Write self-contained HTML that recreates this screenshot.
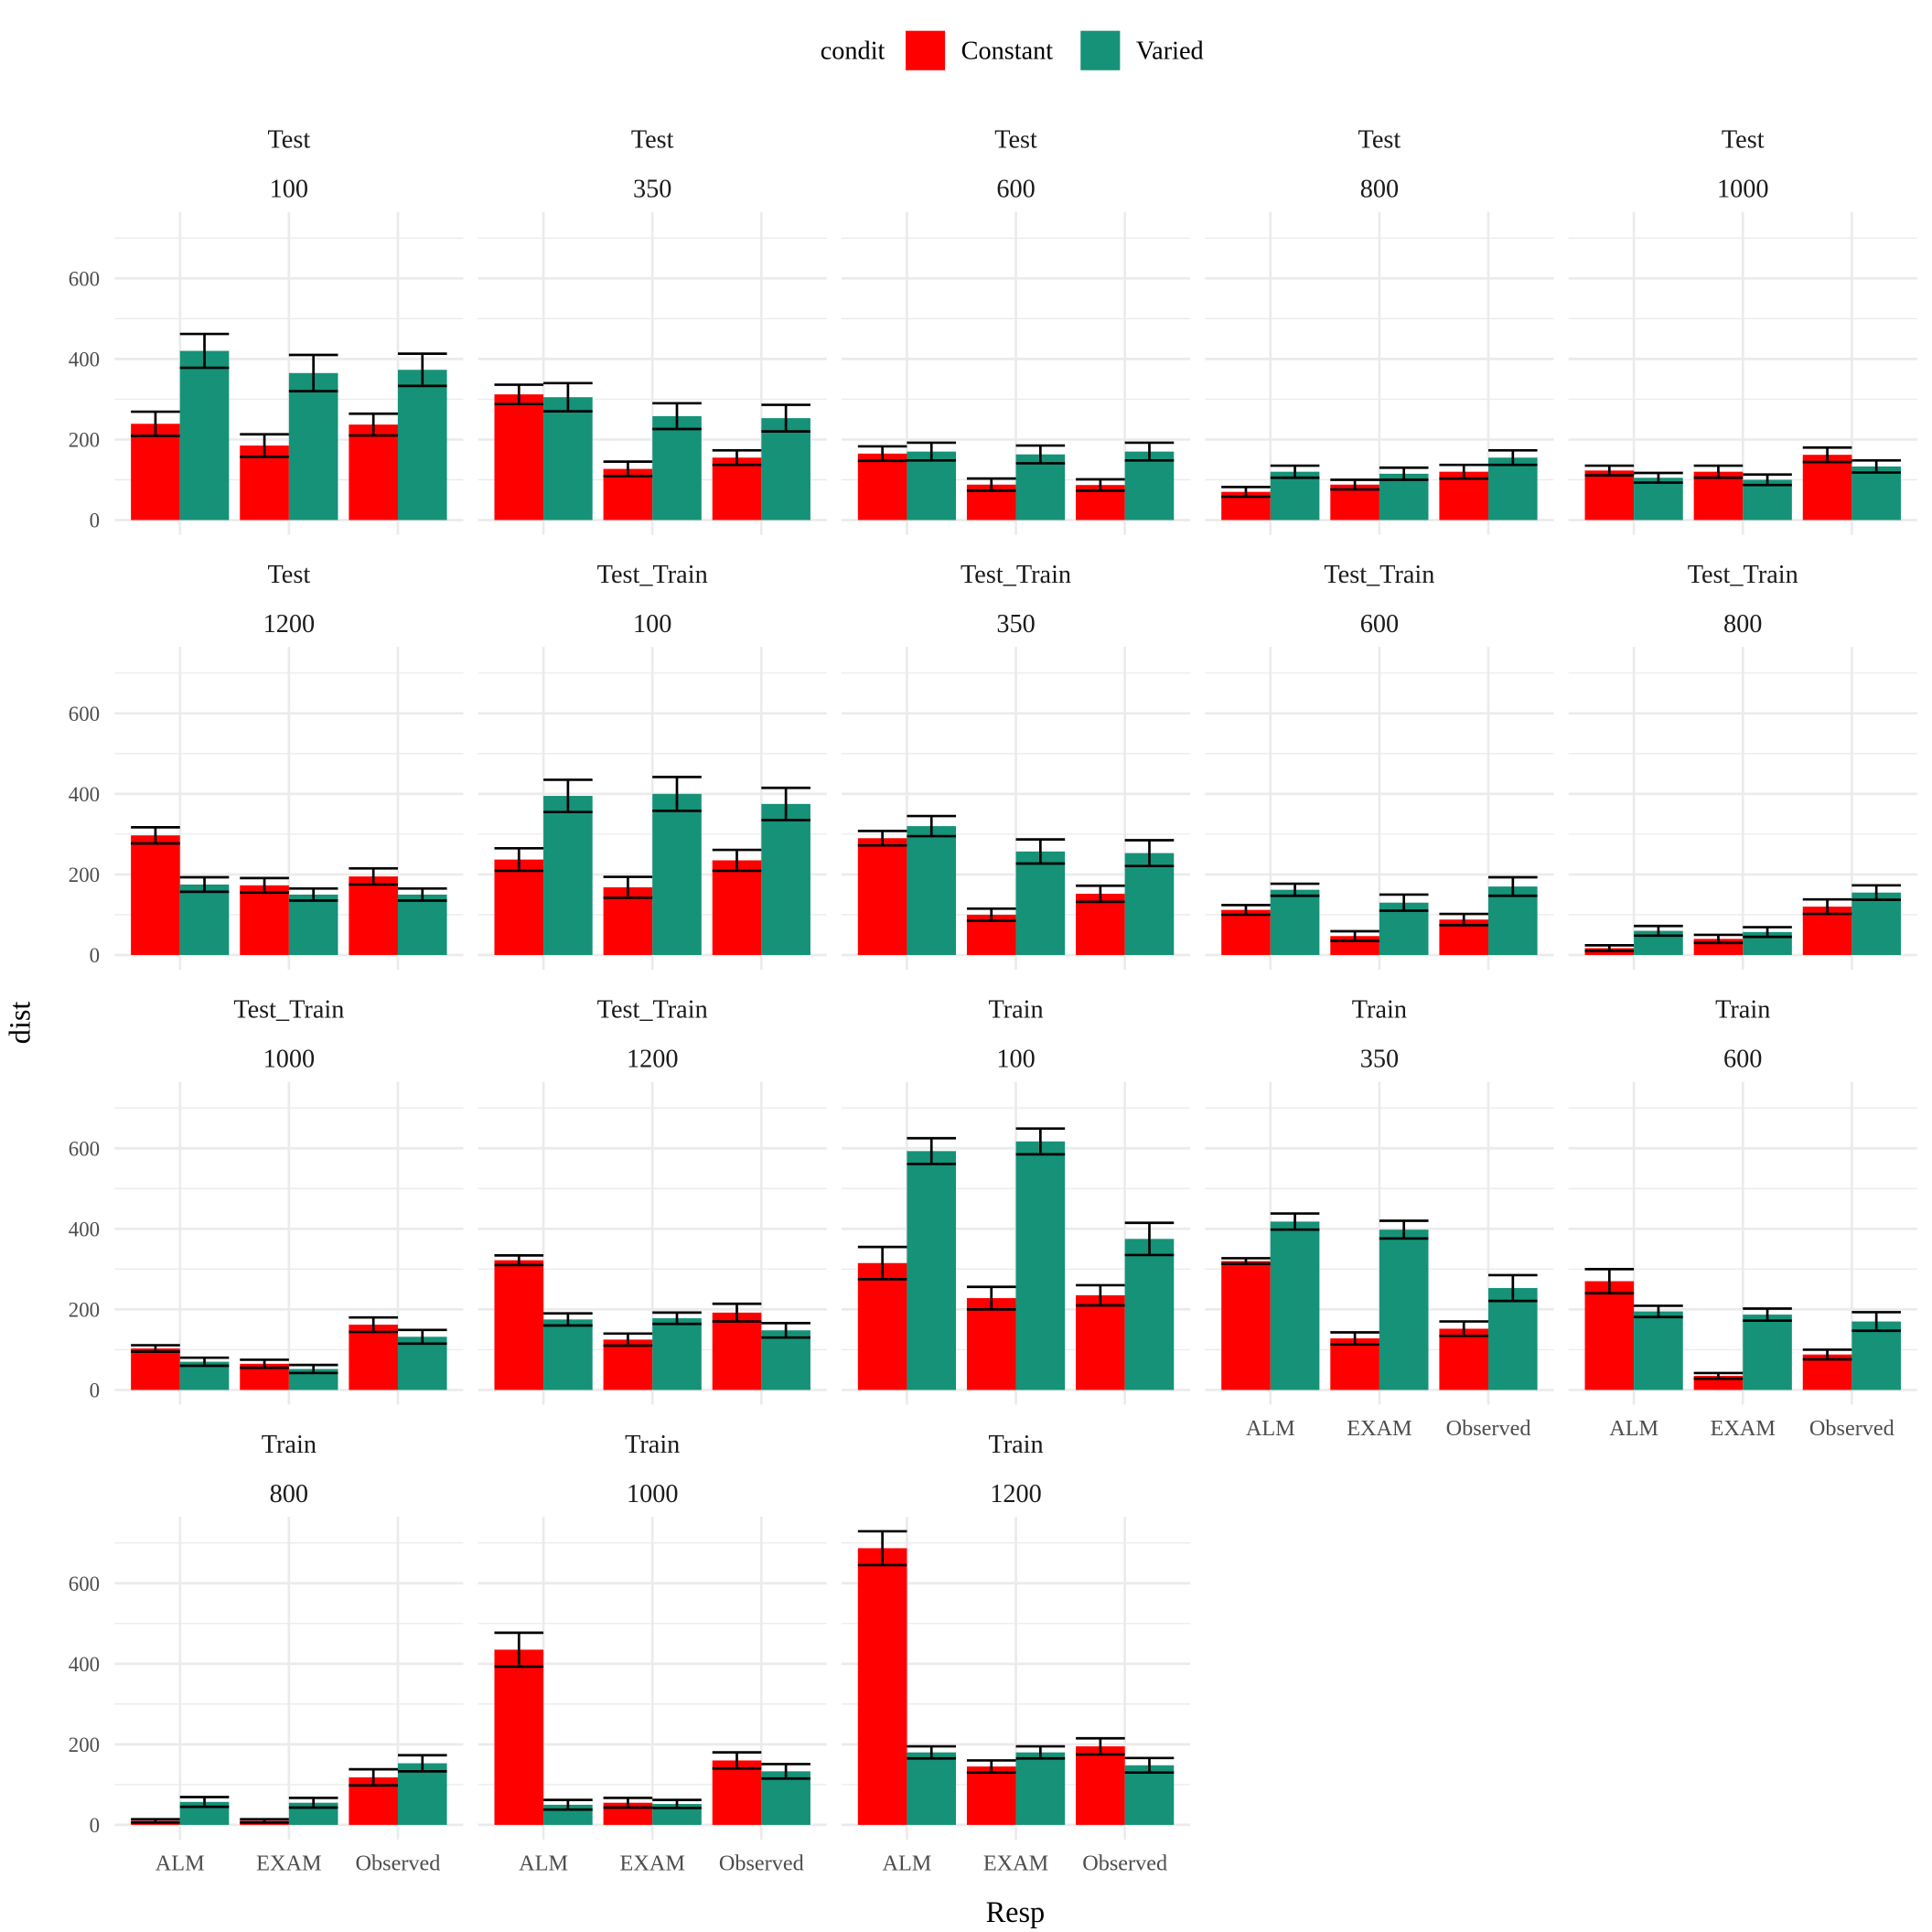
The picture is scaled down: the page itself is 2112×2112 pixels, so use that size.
<!DOCTYPE html>
<html><head><meta charset="utf-8"><style>
html,body{margin:0;padding:0;background:#fff}
svg{display:block}
text{font-family:"Liberation Serif",serif}
</style></head><body>
<svg id="chart" width="2112" height="2112" viewBox="0 0 1568 1568" xmlns="http://www.w3.org/2000/svg">
<g>
<text x="692" y="48" font-size="21" text-anchor="middle" fill="#000">condit</text>
<rect x="735" y="25" width="32" height="32" fill="#FF0000"/>
<text x="780" y="48" font-size="21" fill="#000">Constant</text>
<rect x="877" y="25" width="32" height="32" fill="#159278"/>
<text x="922" y="48" font-size="21" fill="#000">Varied</text>
</g>
<text x="824" y="1560" font-size="24" text-anchor="middle" fill="#000">Resp</text>
<text x="0" y="0" font-size="24" text-anchor="middle" fill="#000" transform="translate(24,830) rotate(-90)">dist</text>
<g id="panels"></g>
</svg>
<script>
const categories = ["ALM","EXAM","Observed"];
const stripTop = ["Test","Test","Test","Test","Test","Test","Test_Train","Test_Train","Test_Train","Test_Train","Test_Train","Test_Train","Train","Train","Train","Train","Train","Train"];
const stripBottom = ["100","350","600","800","1000","1200","100","350","600","800","1000","1200","100","350","600","800","1000","1200"];
// per panel: [ALM, EXAM, Observed]
const constantVals = [
[239,185,237],[312,127,155],[165,88,87],[70,88,120],[123,120,162],
[297,173,195],[237,168,235],[290,100,152],[112,47,88],[17,40,120],
[103,65,162],[322,125,192],[315,228,235],[320,128,152],[270,35,88],
[10,10,118],[435,55,160],[687,145,195]];
const variedVals = [
[420,365,373],[305,258,253],[170,163,170],[120,115,155],[105,100,133],
[175,150,150],[395,400,375],[320,257,253],[162,130,170],[60,57,155],
[70,52,132],[175,178,148],[593,617,375],[418,398,253],[195,187,170],
[57,55,153],[50,52,133],[180,180,148]];
const constantErr = [
[30,28,27],[24,18,18],[18,15,14],[12,12,17],[12,15,18],
[20,18,20],[28,26,26],[18,15,20],[12,12,14],[7,10,18],
[8,10,18],[12,15,22],[40,28,25],[7,15,18],[30,7,12],
[4,4,20],[42,12,20],[42,15,20]];
const variedErr = [
[42,45,40],[35,32,33],[22,22,22],[15,15,18],[12,13,15],
[18,15,15],[40,42,40],[25,30,32],[15,20,23],[12,12,18],
[10,10,17],[15,14,18],[32,32,40],[20,22,32],[14,15,23],
[12,12,20],[12,10,18],[15,15,18]];
const yTicks = [0,200,400,600];
const yMinor = [100,300,500,700];

const NS="http://www.w3.org/2000/svg";
const root=document.getElementById('panels');
function mk(tag,attrs,parent){const e=document.createElementNS(NS,tag);for(const k in attrs)e.setAttribute(k,attrs[k]);parent.appendChild(e);return e;}
const PW=283, PH=262, colX=[93,388,683,978,1273], rowTop=[172,525,878,1231];
const yMin=-36.5, yMax=765;
for(let p=0;p<18;p++){
  const r=Math.floor(p/5), c=p%5;
  const x0=colX[c], t0=rowTop[r];
  const g=mk('g',{},root);
  
  
  const ys=v=>t0+PH*(yMax-v)/(yMax-yMin);
  const xs=i=>x0+PW*(i+0.6)/3.2;
  const unit=PW/3.2;
  // strip
  const s1=mk('text',{x:x0+PW/2,y:t0-52,'font-size':21,'text-anchor':'middle',fill:'#1a1a1a'},g);
  s1.textContent=stripTop[p];
  
  
  const s2=mk('text',{x:x0+PW/2,y:t0-12,'font-size':21,'text-anchor':'middle',fill:'#1a1a1a'},g);
  s2.textContent=stripBottom[p];
  
  
  // grid
  yMinor.forEach(v=>{const l=mk('line',{x1:x0,x2:x0+PW,y1:ys(v),y2:ys(v),stroke:'#ebebeb','stroke-width':1},g);
    });
  yTicks.forEach(v=>{const l=mk('line',{x1:x0,x2:x0+PW,y1:ys(v),y2:ys(v),stroke:'#ebebeb','stroke-width':2},g);
    });
  categories.forEach((cat,i)=>{const l=mk('line',{x1:xs(i),x2:xs(i),y1:t0,y2:t0+PH,stroke:'#ebebeb','stroke-width':2},g);
    });
  if(c===0){
    yTicks.forEach(v=>{const tx=mk('text',{x:x0-12,y:ys(v)+6,'font-size':17,'text-anchor':'end',fill:'#4d4d4d'},g);
      tx.textContent=v;
      });
  }
  const showX = (r===3) || (r===2 && c>=3);
  if(showX){
    categories.forEach((cat,i)=>{const tx=mk('text',{x:xs(i),y:t0+PH+25,'font-size':18,'text-anchor':'middle',fill:'#4d4d4d'},g);
      tx.textContent=cat;
      });
  }
  const bw=unit*0.45;
  categories.forEach((cat,i)=>{
    const series=[[constantVals[p][i],constantErr[p][i],'#FF0000',-1,'constant'],[variedVals[p][i],variedErr[p][i],'#159278',0,'varied']];
    series.forEach(([v,e,col,off,nm])=>{
      const bx=xs(i)+off*bw;
      const b=mk('rect',{x:bx,y:ys(v),width:bw,height:ys(0)-ys(v),fill:col},g);
      
      
      const eg=mk('g',{stroke:'#000','stroke-width':2,fill:'none'},g);
      
      
      const cx=bx+bw/2;
      mk('line',{x1:cx,x2:cx,y1:ys(v+e),y2:ys(v-e)},eg);
      mk('line',{x1:bx,x2:bx+bw,y1:ys(v+e),y2:ys(v+e)},eg);
      mk('line',{x1:bx,x2:bx+bw,y1:ys(v-e),y2:ys(v-e)},eg);
    });
  });
}
</script>
</body></html>
